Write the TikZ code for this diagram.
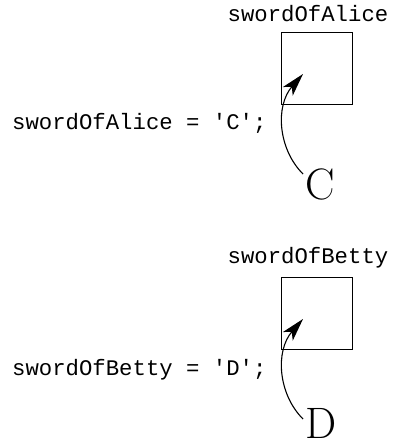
\documentclass[tikz,border=0pt]{standalone}
\usepackage{fontspec}
\setmonofont{Liberation Mono}
\usetikzlibrary{arrows.meta}

\begin{document}
\begin{tikzpicture}[x=1pt, y=1pt]
		% Node style
		\tikzset{cell style/.style={draw, line width=0.8pt,
								minimum width=71pt, minimum height=72pt},
				code style/.style={font=\ttfamily\fontsize{22.3}{24}\selectfont,
								inner sep=0pt, anchor=base west},
				name style/.style={code style, anchor=base},
				value style/.style={font=\fontsize{44}{44}\selectfont,
								inner sep=0pt, anchor=base west},
				pointer/.style={line width=1.1pt,
								-{Stealth[length=23pt, width=13pt, inset=6pt]}}}
		\useasboundingbox (0, 0) rectangle (398, 447);
		
		% Draw nodes
		\node[cell style] at (316.5, 379) 	(boxA) {};
		\node[name style] at (308, 425) 	(nameA) {swordOfAlice};
		\node[code style] at (12, 317) 		(codeA) {swordOfAlice = 'C';};
		\node[value style] at (305, 247) 	(valA) {C};
		
		\node[cell style] at (316.5, 134) 	(boxB) {};
		\node[name style] at (308, 183) 	(nameB) {swordOfBetty};
		\node[code style] at (12, 71) 		(codeB) {swordOfBetty = 'D';};
		\node[value style] at (305, 9) 		(valB) {D};
		
		% Draw connectors
		\draw[pointer] ([shift={(-2, 26)}]valA.base west)
			.. controls +(-25, 25) and +(-28, -32) .. ([shift={(-13.5, -6)}]boxA.center);
		\draw[pointer] ([shift={(-2, 19)}]valB.base west)
			.. controls +(-25, 25) and +(-28, -32) .. ([shift={(-13.5, -6)}]boxB.center);
		
	\end{tikzpicture}
\end{document}
